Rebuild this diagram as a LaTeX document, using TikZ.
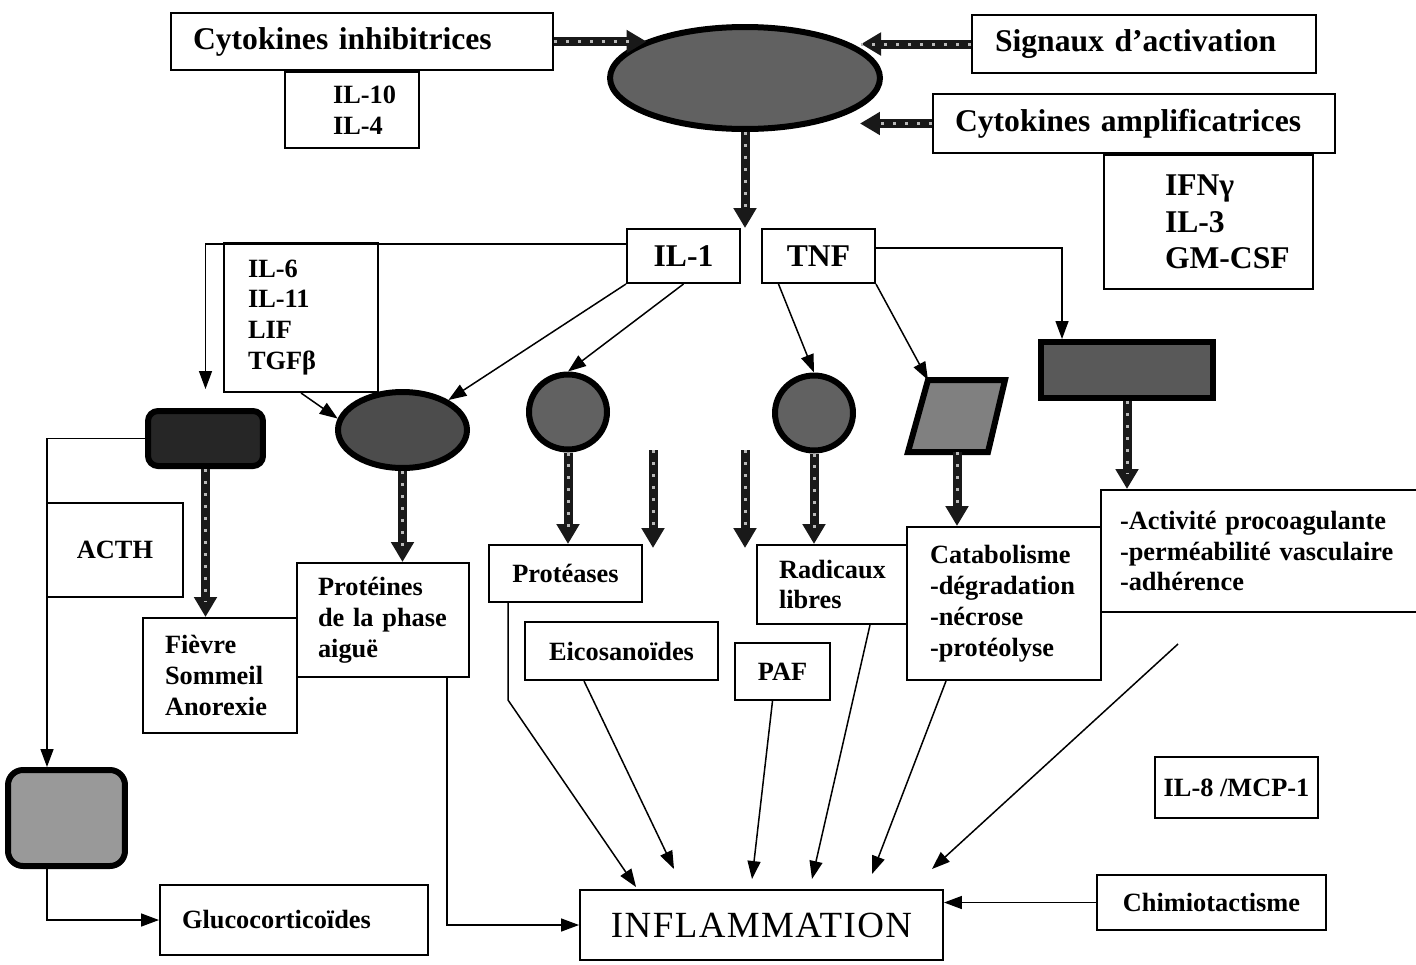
\documentclass[tikz,border=0pt]{standalone}
\usepackage{fontspec}
\setmainfont{Liberation Serif}
\usetikzlibrary{shapes.geometric, arrows.meta, positioning}
\newcommand{\bigtxt}{\fontsize{18}{20.8}\selectfont\bfseries}
\newcommand{\smalltxt}{\fontsize{15}{17.6}\selectfont\bfseries}
\tikzset{
    box/.style={rectangle, draw=black, line width=0.4mm, inner sep=0pt, align=center, font=\smalltxt},
    bigbox/.style={box, font=\bigtxt},
    darkcell/.style={ellipse, draw=black, line width=1.2mm, fill=black!62, inner sep=0pt},
    darkbox/.style={rectangle, draw=black, line width=1.2mm, fill=black!62, inner sep=0pt},
    arrow/.style={line width=0.3mm, -{Triangle[length=3.6mm, width=2.6mm]}},
    thickarrow/.style={line width=1.8mm, draw=black!90, -{Triangle[length=4mm, width=4.4mm]},
        postaction={draw=gray!55, line width=0.6mm, dash pattern=on 0.6mm off 1.8mm, -, shorten >=3mm}}
}
\begin{document}
\begin{tikzpicture}[x=0.02cm, y=-0.02cm]
    \useasboundingbox (0,0) rectangle (1416,964);

    % top row
    \node (cytinh) [bigbox, text width=76.4mm, align=left, minimum height=11.4mm] at (362,41.5) {\leftskip=4.4mm\relax Cytokines inhibitrices\par};
    \node (il10) [box, text width=26.8mm, align=left, minimum height=15.2mm, below=0pt of cytinh, xshift=-2mm] {\leftskip=9.6mm\relax IL-10\\IL-4\par};
    \node (cell) [darkcell, minimum width=54mm, minimum height=20.4mm] at (745,78) {};
    \node (signaux) [bigbox, text width=68.8mm, align=left, minimum height=11.6mm] at (1144,44) {\leftskip=4.6mm\relax Signaux d’activation\par};
    \node (cytamp) [bigbox, text width=80.4mm, align=left, minimum height=11.8mm] at (1134,123.5) {\leftskip=4.4mm\relax Cytokines amplificatrices\par};
    \node (ifn) [bigbox, text width=41.8mm, align=left, minimum height=26.8mm, below=0pt of cytamp, xshift=14.9mm] {\leftskip=12.2mm\relax IFNγ\\IL-3\\GM-CSF\par};

    % cytokines
    \node (il1) [bigbox, minimum width=22.6mm, minimum height=10.8mm] at (683.5,256) {IL-1};
    \node (tnf) [bigbox, minimum width=22.6mm, minimum height=10.8mm, right=4mm of il1] {TNF};
    \node (il6) [box, text width=30.8mm, align=left, minimum height=29.8mm] at (301,317.5) {\leftskip=4.8mm\relax IL-6\\IL-11\\LIF\\TGFβ\par};

    % target organs
    \node (hypo) [darkbox, rounded corners=2mm, fill=black!85, minimum width=23mm, minimum height=11mm] at (205.5,438.5) {};
    \node (liver) [darkcell, fill=black!70, minimum width=25.8mm, minimum height=15.2mm] at (402.5,430) {};
    \node (circ1) [darkcell, minimum width=15.6mm, minimum height=15mm] at (568,412) {};
    \node (circ2) [darkcell, minimum width=15.6mm, minimum height=15mm] at (814,413) {};
    \path [draw=black, line width=1.2mm, fill=black!50] (908,452) -- (928,380) -- (1005,380) -- (988,452) -- cycle;
    \coordinate (paraTop) at (928,380);
    \coordinate (paraBot) at (957,452);
    \node (drect) [darkbox, fill=black!65, minimum width=34.4mm, minimum height=11.2mm] at (1127,370) {};
    \node (gland) [darkbox, rounded corners=3mm, fill=black!40, minimum width=23.4mm, minimum height=19.2mm] at (66.5,818) {};

    % effects
    \node (acth) [box, minimum width=27.2mm, minimum height=18.8mm] at (115,550) {ACTH};
    \node (fever) [box, text width=30.8mm, align=left, minimum height=23mm] at (220,675.5) {\leftskip=4.4mm\relax Fièvre\\Sommeil\\Anorexie\par};
    \node (prot) [box, text width=34.4mm, align=left, minimum height=22.8mm] at (383,620) {\leftskip=4.2mm\relax Protéines\\de la phase\\aiguë\par};
    \node (gluco) [box, text width=53.6mm, align=left, minimum height=14mm] at (294,920) {\leftskip=4.4mm\relax Glucocorticoïdes\par};
    \node (protease) [box, minimum width=30.6mm, minimum height=11.4mm] at (565.5,573.5) {Protéases};
    \node (eico) [box, minimum width=38.6mm, minimum height=11.6mm] at (621.5,651) {Eicosanoïdes};
    \node (paf) [box, minimum width=19mm, minimum height=11.4mm] at (782.5,671.5) {PAF};
    \node (radic) [box, text width=30mm, align=left, minimum height=15.8mm] at (832,584.5) {\leftskip=4.4mm\relax Radicaux\\libres\par};
    \node (catab) [box, text width=38.8mm, align=left, minimum height=30.6mm] at (1004,603.5) {\leftskip=4.6mm\relax Catabolisme\\-dégradation\\-nécrose\\-protéolyse\par};
    \node (activ) [box, text width=63.8mm, align=left, minimum height=24.4mm] at (1260.5,551) {\leftskip=3.8mm\relax -Activité procoagulante\\-perméabilité vasculaire\\-adhérence\par};
    \node (il8) [box, minimum width=32.6mm, minimum height=12.2mm] at (1236.5,787.5) {IL-8 /MCP-1};
    \node (chimio) [box, minimum width=45.8mm, minimum height=11mm] at (1211.5,902.5) {Chimiotactisme};
    \node (inflam) [box, font=\fontsize{21}{24}\selectfont\addfontfeature{LetterSpace=4}, minimum width=72.6mm, minimum height=14mm] at (761.5,925) {INFLAMMATION};

    \coordinate (eicoTop) at (653,450);
    \coordinate (eicoEnd) at (653,548);
    \coordinate (pafTop) at (745,450);
    \coordinate (pafEnd) at (745,548);
    \coordinate (protBend) at (508,700);
    \coordinate (chemoStart) at (1178,644);

    % activation of the cell
    \draw [thickarrow] (cytinh.east) -- (cytinh.east -| cell.159);
    \draw [thickarrow, shorten >=3mm] (signaux.west) -- (signaux.west -| cell.20);
    \draw [thickarrow] (cytamp.west) -- ([xshift=-4.6mm]cytamp.west -| cell.east);
    \draw [thickarrow] (cell.south) -- (cell.south |- il1.north);

    % IL-1 and TNF
    \draw [arrow] ([yshift=2.4mm]il1.west) -| ([yshift=3.8mm]hypo.north);
    \draw [arrow] (il1.south west) -- (liver);
    \draw [arrow] (il1.south) -- (circ1.north);
    \draw [arrow] (il6.south) -- (liver.170);
    \draw [arrow] (tnf.215) -- (circ2.north);
    \draw [arrow] (tnf.south east) -- (paraTop);
    \draw [arrow] ([yshift=1.6mm]tnf.east) -| ([xshift=-13mm]drect.north);

    % organs to effects
    \draw [thickarrow] (hypo.south) -- (hypo.south |- fever.north);
    \draw [arrow] (hypo.west) -| ([xshift=-3.9mm]gland.north);
    \draw [arrow] ([xshift=-3.9mm]gland.south) |- (gluco.west);
    \draw [thickarrow] (liver.south) -- (liver.south |- prot.north);
    \draw [thickarrow] (circ1.south) -- (circ1.south |- protease.north);
    \draw [thickarrow] (eicoTop) -- (eicoEnd);
    \draw [thickarrow] (pafTop) -- (pafEnd);
    \draw [thickarrow] (circ2.south) -- (circ2.south |- radic.north);
    \draw [thickarrow] (paraBot) -- (paraBot |- catab.north);
    \draw [thickarrow] (drect.south) -- (drect.south |- activ.north);

    % towards inflammation
    \draw [arrow] ([xshift=12.8mm]prot.south) |- (inflam.west);
    \draw [arrow] ([xshift=-11.5mm]protease.south) -- (protBend) -- ([xshift=11.4mm, yshift=0.4mm]inflam.north west);
    \draw [arrow] ([xshift=-7.5mm]eico.south) -- ([xshift=19mm, yshift=4mm]inflam.north west);
    \draw [arrow] ([xshift=-2mm]paf.south) -- ([xshift=34.6mm, yshift=2mm]inflam.north west);
    \draw [arrow] ([xshift=7.6mm]radic.south) -- ([xshift=46.6mm, yshift=2mm]inflam.north west);
    \draw [arrow] ([xshift=-11.6mm]catab.south) -- ([xshift=58.6mm, yshift=3mm]inflam.north west);
    \draw [arrow] (chemoStart) -- ([xshift=70.6mm, yshift=4mm]inflam.north west);
    \draw [arrow] (chimio.west) -- (chimio.west -| inflam.east);
\end{tikzpicture}
\end{document}
